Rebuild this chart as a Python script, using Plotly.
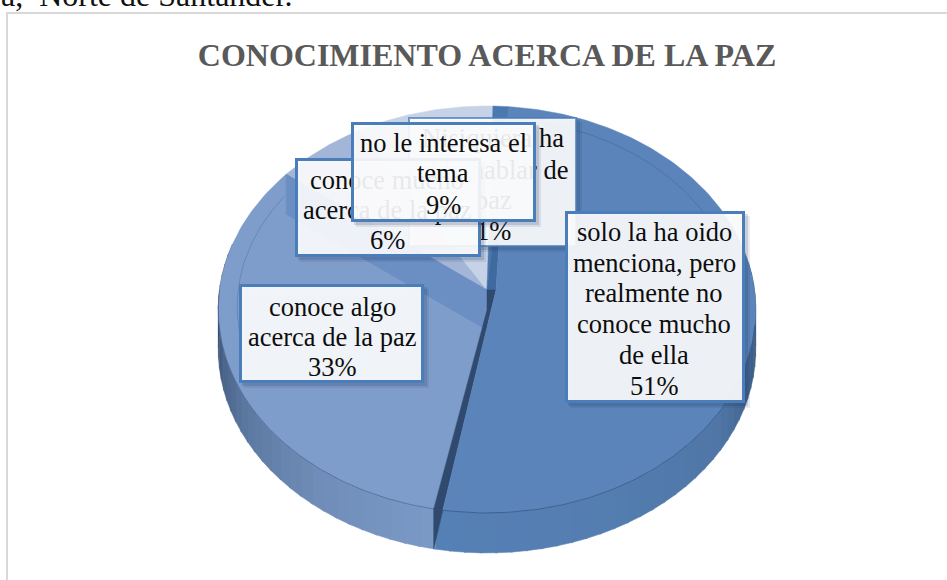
import math
import plotly.graph_objects as go

# ---- data ----
categories = [
    "solo la ha oido menciona, pero realmente no conoce mucho de ella",
    "conoce algo acerca de la paz",
    "conoce mucho acerca de la paz",
    "no le interesa el tema",
    "Nisiquiera ha oido hablar de paz",
]
values = [51, 33, 6, 9, 1]
label_lines = [
    ["solo la ha oido", "menciona, pero", "realmente no", "conoce mucho", "de ella"],
    ["conoce algo", "acerca de la paz"],
    ["conoce mucho", "acerca de la paz"],
    ["no le interesa el", "tema"],
    ["Nisiquiera ha", "oido hablar de", "paz"],
]
title_text = "CONOCIMIENTO ACERCA DE LA PAZ"
header_text = "a,&nbsp; Norte de Santander."

# ---- styles / geometry ----
W, H = 947, 580
CX, CY, RX = 487.0, 290.0, 267.5
RY, K = 201.6, 0.0958
DEPTH = 40.0
ROTATION = 5.0
CUT_GAP = 1.8
top_colors = ["#5a84ba", "#7f9dcb", "#a3b6d8", "#c6d2e6", "#4a78b0"]
wall_stops = [(90, "#3a577d"), (105, "#3f5f88"), (125, "#4f76a6"), (165, "#557fb3"), (188.5, "#5580b5"),
              (190.5, "#7b99c6"), (215, "#6f8db8"), (240, "#5a779f"), (262, "#3e5478"), (275, "#2f415f")]
BORDER = "#4a7ebb"
SERIF = "Liberation Serif"

# box: left, right, top, bottom; label centre x; line centres y (the last is the percentage)
boxes = {
    4: dict(box=(408, 577, 117, 247), cx=493, ys=[138, 170, 200, 231], bw=2, color="rgba(74,126,187,0.75)"),
    2: dict(box=(295, 481, 158, 257), cx=387, ys=[180, 210, 240], bw=3, color=BORDER),
    3: dict(box=(351, 536, 122, 222), cx=443, ys=[143, 173, 205], bw=3, color=BORDER),
    0: dict(box=(565, 745, 211, 403), cx=654, ys=[232, 263, 293, 324, 355, 386], bw=3, color=BORDER),
    1: dict(box=(239, 424, 284, 383), cx=332, ys=[307, 337, 367], bw=3, color=BORDER),
}
draw_order = [4, 2, 3, 0, 1]


def rim(theta, scale=1.0, dy=0.0):
    t = math.radians(theta)
    u, v = math.sin(t), -math.cos(t)
    d = 1 - K * v * scale
    return CX + RX * scale * u / d, CY + RY * scale * v / d + dy


def arc(a, b, scale=1.0, dy=0.0, step=1.0):
    n = max(2, int(abs(b - a) / step) + 1)
    return [rim(a + (b - a) * i / (n - 1), scale, dy) for i in range(n)]


def hex_rgb(c):
    return tuple(int(c[i:i + 2], 16) for i in (1, 3, 5))


def wall_color(th):
    for (a, ca), (b, cb) in zip(wall_stops, wall_stops[1:]):
        if a <= th <= b:
            f = (th - a) / (b - a)
            x, y = hex_rgb(ca), hex_rgb(cb)
            return "rgb(%d,%d,%d)" % tuple(round(x[i] + (y[i] - x[i]) * f) for i in range(3))
    return wall_stops[-1][1]


fig = go.Figure()


def poly(points, color, line=None, lw=0):
    xs = [p[0] for p in points]
    ys = [p[1] for p in points]
    fig.add_trace(go.Scatter(x=xs, y=ys, mode="lines", fill="toself", fillcolor=color,
                             line=dict(color=line or color, width=lw if line else 0.5),
                             hoverinfo="skip", showlegend=False))


def stroke(points, color, lw=1):
    fig.add_trace(go.Scatter(x=[p[0] for p in points], y=[p[1] for p in points], mode="lines",
                             line=dict(color=color, width=lw), hoverinfo="skip", showlegend=False))


# slice boundaries come from the values
total = sum(values)
edges = [ROTATION]
for v in values:
    edges.append(edges[-1] + v / total * 360)
(a51, a33, a6, a9, a1, a_end) = edges
C = (CX, CY)
apex51 = (CX + 9, CY)
apex33 = (CX, CY + 20)

# outer wall, front half
th = 82.0
while th < 282:
    nxt = th + 3
    pts = arc(th, nxt + 0.4) + arc(nxt + 0.4, th, dy=DEPTH)
    poly(pts, wall_color(th + 1.5))
    th = nxt

# top faces, back slices first
poly([C] + arc(a6, a9) + [C], top_colors[2])
poly([C] + arc(a9, a1) + [C], top_colors[3])
poly([apex33] + arc(a33 + CUT_GAP, a6) + [C, apex33], top_colors[1])
# visible cut wall of the 33 % slice
p1 = rim(a6)
poly([C, p1, (p1[0], p1[1] + DEPTH), (CX, CY + DEPTH), C], "#6b8ec3")
poly([C] + arc(a1, a_end) + [C], top_colors[4])
# narrow face next to the first slice's start
poly([C, apex51, rim(a_end), C], "#3f6a9f")
# dark gap between the two large slices
r51, r33 = rim(a33), rim(a33 + CUT_GAP)
poly([C, apex51, r51, r33, apex33, C], "#2f4a6e")
poly([r33, r51, (r33[0], r33[1] + DEPTH), r33], "#2f4a6e")
poly([apex51] + arc(a51, a33) + [apex51], top_colors[0])

# bevel lines
stroke(arc(100, a33), "rgba(35,65,110,0.55)", 1)
stroke(arc(a33 + CUT_GAP, 270), "rgba(35,65,110,0.45)", 1)
stroke(arc(a51 + 8, 85, 0.93), "rgba(50,85,135,0.35)", 1)
stroke(arc(258, a6 - 6, 0.93), "rgba(50,85,135,0.30)", 1)

# ---- annotations: boxes and labels, stacked as in the picture ----
anns = []


def box_ann(l, r, t, b, bg, color="rgba(0,0,0,0)", bw=0):
    anns.append(dict(x=l, y=t, xref="x", yref="y", xanchor="left", yanchor="top", text=" ",
                     showarrow=False, width=r - l - 2 * bw, height=b - t - 2 * bw, borderpad=0,
                     bgcolor=bg, bordercolor=color, borderwidth=bw, font=dict(size=6)))


for i in draw_order:
    d = boxes[i]
    l, r, t, b = d["box"]
    box_ann(l + 5, r + 5, t + 5, b + 5, "rgba(30,50,85,0.10)")
    box_ann(l + 3, r + 3, t + 3, b + 3, "rgba(30,50,85,0.16)")
    box_ann(l, r, t, b, "rgba(255,255,255,0.90)", d["color"], d["bw"])
    lines = label_lines[i] + ["%d%%" % values[i]]
    for line, y in zip(lines, d["ys"]):
        anns.append(dict(x=d["cx"], y=y, xref="x", yref="y", xanchor="center", yanchor="middle",
                         text=line, showarrow=False, font=dict(family=SERIF, size=26.5, color="#0d0d0d")))

anns.append(dict(x=0, y=1 - 14 / H, xref="paper", yref="paper", xanchor="left", yanchor="bottom",
                 text=header_text, showarrow=False, borderpad=0,
                 font=dict(family=SERIF, size=32, color="#111111")))

fig.update_layout(
    width=W, height=H, margin=dict(l=0, r=0, t=0, b=0),
    paper_bgcolor="white", plot_bgcolor="white", showlegend=False,
    title=dict(text="<b>%s</b>" % title_text, x=487 / W, y=1 - 55 / H, xanchor="center", yanchor="middle",
               font=dict(family=SERIF, size=32, color="#595959")),
    xaxis=dict(range=[0, W], visible=False, fixedrange=True),
    yaxis=dict(range=[H, 0], visible=False, fixedrange=True),
    annotations=anns,
    shapes=[dict(type="rect", xref="x", yref="y", x0=7, y0=13, x1=W + 20, y1=H + 20,
                 line=dict(color="#d9d9d9", width=2), layer="below")],
)

fig.write_html("out.html", config=dict(displayModeBar=False),
               post_script="document.body.style.margin='0';document.body.style.overflow='hidden';")
